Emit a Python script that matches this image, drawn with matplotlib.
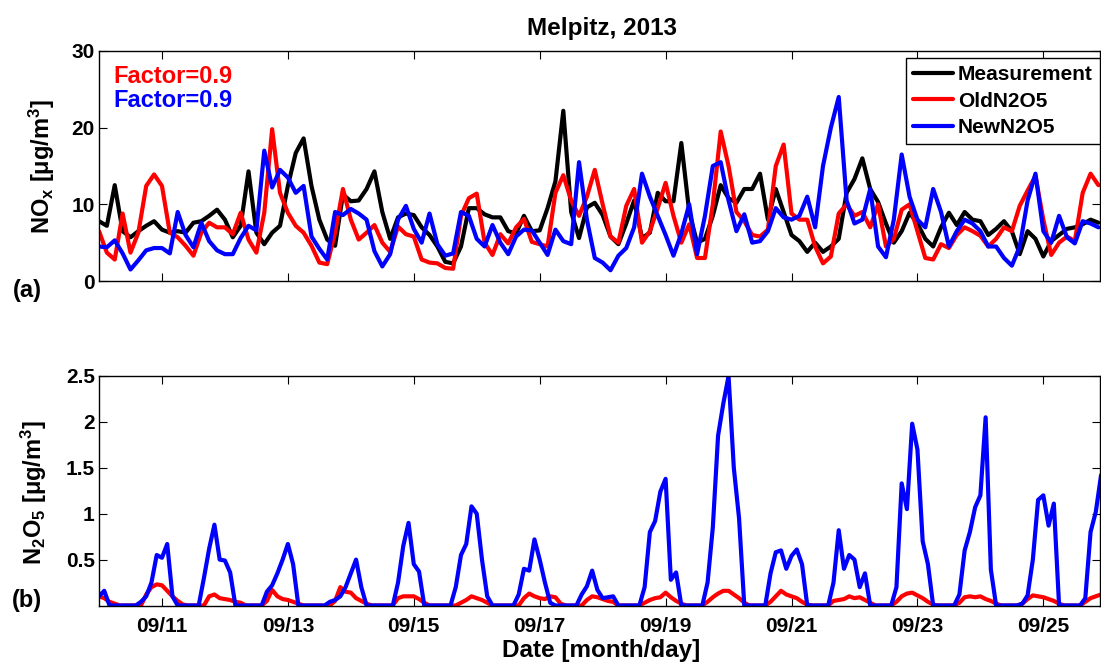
import matplotlib
matplotlib.use("Agg")
import matplotlib.pyplot as plt
import matplotlib.dates as mdates
import pandas as pd

plt.rcParams['font.family'] = ['Liberation Sans', 'DejaVu Sans']
plt.rcParams['font.weight'] = 'bold'
plt.rcParams['mathtext.fontset'] = 'custom'
plt.rcParams['mathtext.rm'] = 'Liberation Sans:bold'
plt.rcParams['mathtext.bf'] = 'Liberation Sans:bold'
plt.rcParams['mathtext.default'] = 'bf'

# NOx [ug/m3], 3-hourly from 2013-09-10 00:00, one row per day
nox_meas = [
    7.8, 7.2, 12.5, 6.5, 5.7, 6.5, 7.2, 7.8,
    6.7, 6.3, 6.5, 6.3, 7.6, 7.8, 8.5, 9.3,
    8.0, 5.7, 7.2, 14.3, 6.3, 4.8, 6.3, 7.2,
    12.4, 16.7, 18.6, 12.4, 8.0, 5.4, 4.6, 11.3,
    10.4, 10.5, 12.0, 14.3, 9.0, 5.5, 8.3, 8.8,
    8.6, 7.0, 6.0, 4.5, 2.5, 2.3, 4.5, 9.5,
    9.5, 8.7, 8.3, 8.3, 6.5, 6.2, 8.5, 6.5,
    6.6, 9.5, 13.0, 22.2, 9.0, 5.6, 9.6, 10.2,
    8.6, 5.8, 4.8, 7.5, 10.5, 5.6, 6.3, 11.5,
    10.4, 10.4, 18.0, 9.0, 5.0, 5.5, 8.5, 12.5,
    10.8, 10.2, 12.0, 12.0, 14.0, 8.0, 12.0, 9.0,
    6.0, 5.2, 3.8, 5.0, 3.8, 4.5, 5.5, 11.5,
    13.3, 16.0, 12.0, 10.3, 7.5, 5.0, 6.5, 8.9,
    7.5, 5.5, 4.5, 7.0, 8.9, 7.3, 9.0, 8.0,
    7.8, 6.0, 6.8, 7.8, 6.5, 3.5, 6.5, 5.5,
    3.2, 5.2, 6.0, 6.8, 7.0, 7.4, 8.0, 7.6,
]
nox_old = [
    6.5, 3.7, 2.8, 8.8, 3.7, 6.3, 12.4, 13.9,
    12.4, 6.3, 5.7, 4.6, 3.3, 6.3, 7.6, 7.0,
    7.0, 6.1, 8.9, 5.4, 3.7, 8.9, 19.8, 11.5,
    8.9, 7.2, 6.3, 4.6, 2.4, 2.2, 6.3, 12.0,
    8.0, 5.4, 6.3, 7.3, 5.0, 3.8, 7.1, 6.1,
    5.8, 2.8, 2.4, 2.3, 1.7, 1.6, 8.5, 10.8,
    11.4, 5.0, 3.4, 6.1, 4.9, 7.0, 8.1, 5.1,
    4.8, 4.5, 11.5, 13.8, 10.5, 8.5, 11.0, 14.5,
    10.0, 5.8, 5.0, 9.8, 12.0, 5.0, 6.5, 9.5,
    12.8, 8.5, 5.0, 7.4, 3.0, 3.0, 10.0, 19.5,
    15.0, 9.0, 7.8, 6.0, 5.8, 6.7, 15.0, 17.8,
    8.8, 8.0, 8.0, 4.5, 2.3, 3.2, 8.8, 10.0,
    8.5, 9.0, 7.0, 10.0, 4.5, 5.5, 9.3, 10.0,
    6.5, 3.0, 2.8, 4.8, 4.3, 6.0, 7.0, 6.5,
    5.9, 4.5, 5.5, 7.0, 6.5, 9.8, 11.8, 13.7,
    8.0, 3.4, 5.0, 5.8, 5.2, 11.5, 14.0, 12.5,
]
nox_new = [
    4.5, 4.4, 5.3, 3.6, 1.5, 2.7, 4.0, 4.3,
    4.3, 3.6, 9.0, 6.0, 4.4, 7.6, 5.2, 4.0,
    3.5, 3.5, 5.6, 7.2, 6.6, 17.0, 12.2, 14.5,
    13.5, 11.5, 12.4, 5.8, 4.2, 2.8, 9.0, 8.6,
    9.4, 8.8, 8.0, 3.9, 1.9, 3.5, 8.0, 9.8,
    6.8, 5.0, 8.8, 4.8, 3.3, 3.6, 9.0, 8.5,
    5.5, 4.5, 7.3, 5.0, 3.5, 5.8, 6.7, 6.6,
    5.0, 3.4, 6.7, 5.2, 4.8, 15.5, 8.0, 3.0,
    2.4, 1.4, 3.3, 4.3, 7.0, 14.0, 11.0, 8.5,
    6.0, 3.3, 6.2, 10.0, 3.5, 8.5, 15.0, 15.5,
    10.5, 6.5, 8.7, 5.0, 5.2, 6.5, 9.5, 8.3,
    8.0, 8.5, 11.0, 7.0, 15.0, 20.0, 24.0, 10.5,
    7.5, 8.0, 12.0, 4.5, 3.1, 8.0, 16.5, 11.0,
    8.0, 7.0, 12.0, 9.0, 4.5, 6.5, 8.0, 7.5,
    6.5, 4.5, 4.5, 3.0, 2.0, 4.5, 10.5, 14.0,
    6.5, 5.0, 8.5, 5.7, 4.9, 7.8, 7.5, 7.0,
]

# N2O5 [ug/m3], 2-hourly from 2013-09-10 00:00, one row per day
n2o5_old = [
    0.10, 0.08, 0.04, 0.02, 0, 0, 0, 0, 0, 0.12, 0.20, 0.23,
    0.22, 0.16, 0.10, 0.05, 0.01, 0, 0, 0, 0, 0.10, 0.12, 0.08,
    0.07, 0.06, 0.04, 0.03, 0, 0, 0, 0, 0.05, 0.17, 0.10, 0.07,
    0.06, 0.04, 0.02, 0, 0, 0, 0, 0, 0, 0.05, 0.20, 0.15,
    0.14, 0.08, 0.05, 0.02, 0, 0, 0, 0, 0, 0.08, 0.10, 0.10,
    0.10, 0.07, 0.03, 0, 0, 0, 0, 0, 0, 0.03, 0.06, 0.10,
    0.08, 0.06, 0.03, 0, 0, 0, 0, 0, 0, 0.08, 0.13, 0.10,
    0.08, 0.07, 0.10, 0.09, 0.02, 0, 0, 0, 0, 0.06, 0.10, 0.09,
    0.07, 0.05, 0.04, 0, 0, 0, 0, 0, 0.03, 0.06, 0.08, 0.09,
    0.14, 0.09, 0.05, 0.02, 0, 0, 0, 0, 0.04, 0.09, 0.13, 0.16,
    0.16, 0.12, 0.08, 0.03, 0, 0, 0, 0, 0.04, 0.10, 0.16, 0.12,
    0.10, 0.08, 0.04, 0.01, 0, 0, 0, 0, 0.05, 0.06, 0.07, 0.10,
    0.08, 0.09, 0.06, 0.03, 0, 0, 0, 0, 0.04, 0.10, 0.13, 0.14,
    0.11, 0.08, 0.04, 0.01, 0, 0, 0, 0, 0.03, 0.09, 0.10, 0.09,
    0.10, 0.07, 0.05, 0.02, 0, 0, 0, 0, 0.02, 0.07, 0.11, 0.10,
    0.09, 0.07, 0.05, 0.02, 0, 0, 0, 0, 0.04, 0.08, 0.10, 0.12,
]
n2o5_new = [
    0.10, 0.16, 0, 0, 0, 0, 0, 0, 0.04, 0.10, 0.25, 0.55,
    0.52, 0.67, 0.10, 0, 0, 0, 0, 0, 0.30, 0.62, 0.88, 0.50,
    0.49, 0.36, 0, 0, 0, 0, 0, 0, 0.15, 0.22, 0.35, 0.50,
    0.67, 0.45, 0, 0, 0, 0, 0, 0, 0.04, 0.06, 0.10, 0.20,
    0.35, 0.50, 0.20, 0, 0, 0, 0, 0, 0, 0.25, 0.65, 0.90,
    0.45, 0.37, 0, 0, 0, 0, 0, 0, 0.20, 0.55, 0.67, 1.08,
    1.00, 0.50, 0.10, 0, 0, 0, 0, 0, 0.12, 0.40, 0.38, 0.72,
    0.50, 0.25, 0.03, 0, 0, 0, 0, 0, 0.12, 0.21, 0.38, 0.17,
    0.08, 0.09, 0.10, 0, 0, 0, 0, 0, 0.20, 0.80, 0.92, 1.24,
    1.38, 0.28, 0.36, 0, 0, 0, 0, 0, 0.25, 0.85, 1.85, 2.20,
    2.50, 1.50, 0.95, 0, 0, 0, 0, 0, 0.35, 0.58, 0.60, 0.40,
    0.54, 0.61, 0.45, 0, 0, 0, 0, 0, 0.25, 0.82, 0.40, 0.55,
    0.50, 0.20, 0.35, 0, 0, 0, 0, 0, 0.20, 1.33, 1.05, 1.98,
    1.70, 0.70, 0.45, 0, 0, 0, 0, 0, 0.12, 0.60, 0.80, 1.07,
    1.20, 2.05, 0.39, 0, 0, 0, 0, 0, 0.02, 0.11, 0.50, 1.15,
    1.20, 0.87, 1.11, 0, 0, 0, 0, 0, 0.08, 0.80, 1.02, 1.42,
]

t_nox = pd.date_range('2013-09-10', periods=len(nox_meas), freq='3h')
t_n2o5 = pd.date_range('2013-09-10', periods=len(n2o5_new), freq='2h')
date_ticks = pd.date_range('2013-09-11', '2013-09-25', freq='2D')
x_range = (pd.Timestamp('2013-09-10'), pd.Timestamp('2013-09-25 21:36'))

W, H = 1101, 663
fig = plt.figure(figsize=(W / 100, H / 100), dpi=100)


def px_box(left, top, right, bottom):
    # axes rectangle given in pixels from the top-left corner
    return [left / W, 1 - bottom / H, (right - left) / W, (bottom - top) / H]


ax1 = fig.add_axes(px_box(99, 51, 1100, 281))
ax2 = fig.add_axes(px_box(99, 376, 1100, 605.5))

line_kw = dict(lw=3.0, solid_joinstyle='round', solid_capstyle='round')
ax1.plot(t_nox, nox_meas, color='k', label='Measurement', **line_kw)
ax1.plot(t_nox, nox_old, color='r', label='OldN2O5', **line_kw)
ax1.plot(t_nox, nox_new, color='b', label='NewN2O5', **line_kw)
ax2.plot(t_n2o5, n2o5_old, color='r', **line_kw)
ax2.plot(t_n2o5, n2o5_new, color='b', **line_kw)

for ax in (ax1, ax2):
    ax.set_xlim(*x_range)
    ax.set_xticks(date_ticks)
    ax.xaxis.set_major_formatter(mdates.DateFormatter('%m/%d'))
    ax.tick_params(direction='in', top=True, right=True, length=6,
                   width=0.8, labelsize=15)
    ax.tick_params(axis='x', pad=8)
    ax.tick_params(axis='y', pad=3)
    for sp in ax.spines.values():
        sp.set_linewidth(1.0)

ax1.set_ylim(0, 30)
ax1.set_yticks([0, 10, 20, 30])
ax1.tick_params(labelbottom=False)

ax2.set_ylim(0, 2.5)
ax2.set_yticks([0.5, 1, 1.5, 2, 2.5])
ax2.set_yticklabels(['0.5', '1', '1.5', '2', '2.5'])

leg = ax1.legend(loc='upper right', bbox_to_anchor=(1100 / W, 1 - 58 / H),
                 bbox_transform=fig.transFigure, fontsize=15, fancybox=False,
                 edgecolor='k', framealpha=1, handlelength=1.9,
                 handletextpad=0.25, labelspacing=0.35, borderpad=0.35,
                 borderaxespad=0)
leg.get_frame().set_linewidth(1.0)

fig.text(601.7 / W, 1 - 29 / H, 'Melpitz, 2013', ha='center', va='center',
         fontsize=17.5)
fig.text(601.5 / W, 1 - 656.5 / H, 'Date [month/day]', ha='center',
         va='baseline', fontsize=17.5)

fig.text(50 / W, 1 - 166.5 / H, r'NO$_x$ [μg/m$^3$]', rotation=90,
         rotation_mode='anchor', ha='center', va='baseline', fontsize=17)
fig.text(42 / W, 1 - 492.5 / H, r'N$_2$O$_5$ [μg/m$^3$]', rotation=90,
         rotation_mode='anchor', ha='center', va='baseline', fontsize=17)

fig.text(113 / W, 1 - 83.3 / H, 'Factor=0.9', color='r', ha='left',
         va='baseline', fontsize=17)
fig.text(113 / W, 1 - 106.7 / H, 'Factor=0.9', color='b', ha='left',
         va='baseline', fontsize=17)

fig.text(27 / W, 1 - 290 / H, '(a)', ha='center', va='center', fontsize=17)
fig.text(27 / W, 1 - 600 / H, '(b)', ha='center', va='center', fontsize=17)

fig.savefig('out.png', dpi=100)
